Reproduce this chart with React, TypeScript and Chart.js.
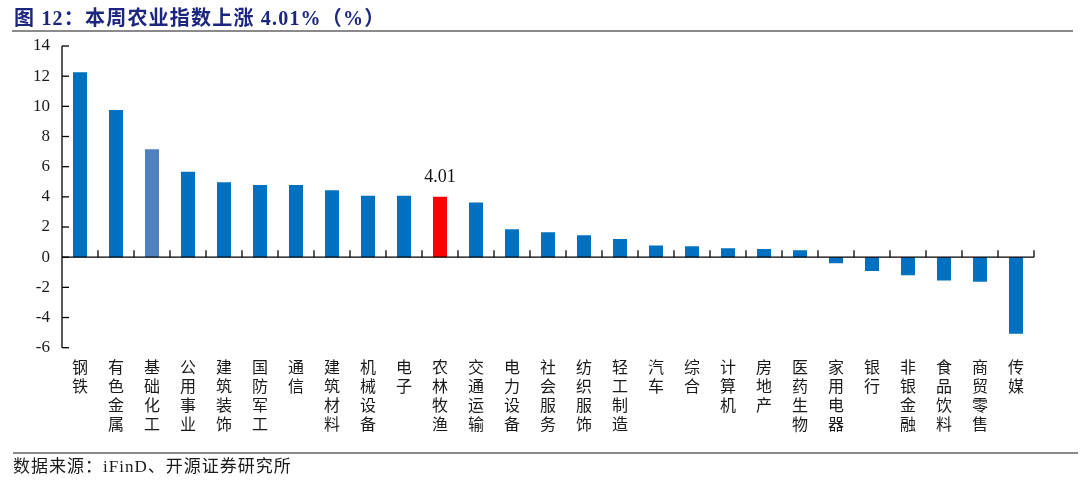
import React, { useEffect, useRef } from "react";
import { Chart, registerables } from "chart.js";

Chart.register(...registerables);

const categories = [
  "钢铁", "有色金属", "基础化工", "公用事业", "建筑装饰", "国防军工", "通信",
  "建筑材料", "机械设备", "电子", "农林牧渔", "交通运输", "电力设备", "社会服务",
  "纺织服饰", "轻工制造", "汽车", "综合", "计算机", "房地产", "医药生物",
  "家用电器", "银行", "非银金融", "食品饮料", "商贸零售", "传媒",
];
const weeklyChange = [
  12.26, 9.76, 7.16, 5.67, 4.97, 4.79, 4.79,
  4.44, 4.07, 4.07, 4.01, 3.63, 1.85, 1.65,
  1.45, 1.21, 0.77, 0.73, 0.59, 0.55, 0.46,
  -0.4, -0.92, -1.19, -1.54, -1.63, -5.08,
];
const highlightCategory = "农林牧渔";
const secondaryCategory = "基础化工";
const yMin = -6;
const yMax = 14;
const yStep = 2;

const BLUE = "#0070C0";
const STEEL = "#4F81BD";
const RED = "#FF0000";

const SERIF = "'Liberation Serif', 'Noto Sans CJK SC', serif";

const axisPlugin = {
  id: "customAxes",
  afterDatasetsDraw(chart: any) {
    const { ctx, chartArea, scales } = chart;
    const y = scales.y;
    const y0 = y.getPixelForValue(0);
    ctx.save();
    ctx.strokeStyle = "#000";
    ctx.lineWidth = 1.3;
    ctx.beginPath();
    ctx.moveTo(chartArea.left, y.top);
    ctx.lineTo(chartArea.left, y.bottom);
    ctx.stroke();
    y.ticks.forEach((t: any) => {
      const py = y.getPixelForValue(t.value);
      ctx.beginPath();
      ctx.moveTo(chartArea.left, py);
      ctx.lineTo(chartArea.left + 7, py);
      ctx.stroke();
    });
    ctx.beginPath();
    ctx.moveTo(chartArea.left, y0);
    ctx.lineTo(chartArea.right, y0);
    ctx.stroke();
    const n = categories.length;
    const w = (chartArea.right - chartArea.left) / n;
    for (let k = 1; k <= n; k++) {
      const px = chartArea.left + k * w;
      ctx.beginPath();
      ctx.moveTo(px, y0);
      ctx.lineTo(px, y0 - 7);
      ctx.stroke();
    }
    const idx = categories.indexOf(highlightCategory);
    const meta = chart.getDatasetMeta(0);
    const bar = meta.data[idx];
    if (bar) {
      ctx.fillStyle = "#111";
      ctx.font = `18px ${SERIF}`;
      ctx.textAlign = "center";
      ctx.textBaseline = "alphabetic";
      ctx.fillText(weeklyChange[idx].toFixed(2), bar.x, bar.y - 15);
    }
    ctx.restore();
  },
};

export default function App() {
  const ref = useRef<HTMLCanvasElement | null>(null);

  useEffect(() => {
    if (!ref.current) return;
    const colors = categories.map((c) =>
      c === highlightCategory ? RED : c === secondaryCategory ? STEEL : BLUE
    );
    const chart = new Chart(ref.current, {
      type: "bar",
      data: {
        labels: categories.map((c) => c.split("")),
        datasets: [
          {
            data: weeklyChange,
            backgroundColor: colors,
            borderWidth: 0,
            categoryPercentage: 1,
            barPercentage: 0.39,
          },
        ],
      },
      options: {
        animation: false,
        responsive: false,
        maintainAspectRatio: false,
        devicePixelRatio: 1,
        layout: { padding: { top: 46, right: 46, left: 0, bottom: 0 } },
        plugins: {
          legend: { display: false },
          tooltip: { enabled: false },
          title: { display: false },
        },
        scales: {
          x: {
            grid: { display: false, drawTicks: false },
            border: { display: false },
            ticks: {
              autoSkip: false,
              maxRotation: 0,
              minRotation: 0,
              padding: 10,
              color: "#1a1a1a",
              font: { family: "'Noto Sans CJK SC', sans-serif", size: 16, lineHeight: "19px" },
            },
            afterFit: (scale: any) => {
              scale.height = 480 - 347.7;
            },
          },
          y: {
            min: yMin,
            max: yMax,
            grid: { display: false, drawTicks: false },
            border: { display: false },
            ticks: {
              stepSize: yStep,
              padding: 12,
              color: "#1a1a1a",
              font: { family: SERIF, size: 17 },
            },
            afterFit: (scale: any) => {
              scale.width = 62;
            },
          },
        },
      },
      plugins: [axisPlugin],
    });
    return () => chart.destroy();
  }, []);

  return (
    <div
      style={{
        position: "fixed",
        left: 0,
        top: 0,
        width: 1080,
        height: 480,
        background: "#fff",
        overflow: "hidden",
      }}
    >
      <canvas
        ref={ref}
        width={1080}
        height={480}
        style={{ position: "absolute", left: 0, top: 0, width: 1080, height: 480 }}
      />
      <div
        style={{
          position: "absolute",
          left: 14,
          top: 5,
          fontFamily: SERIF,
          fontWeight: "bold",
          fontSize: 20,
          letterSpacing: "1.2px",
          lineHeight: "26px",
          color: "#1c2580",
          whiteSpace: "nowrap",
        }}
      >
        图 12：本周农业指数上涨 4.01%（%）
      </div>
      <div
        style={{
          position: "absolute",
          left: 12,
          top: 30,
          width: 1061,
          height: 2,
          background: "#8a8a8a",
        }}
      />
      <div
        style={{
          position: "absolute",
          left: 13,
          top: 452,
          width: 1065,
          height: 2,
          background: "#8a8a8a",
        }}
      />
      <div
        style={{
          position: "absolute",
          left: 13,
          top: 456,
          fontFamily: SERIF,
          fontSize: 17,
          letterSpacing: "1px",
          lineHeight: "22px",
          color: "#1a1a1a",
          whiteSpace: "nowrap",
        }}
      >
        数据来源：iFinD、开源证券研究所
      </div>
    </div>
  );
}
